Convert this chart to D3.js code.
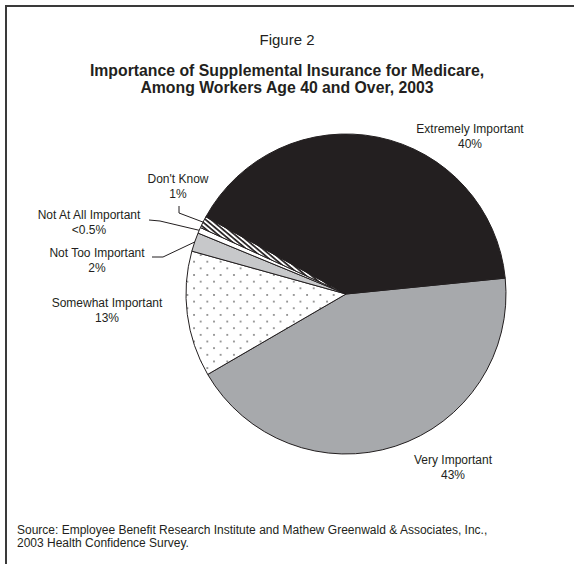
<!DOCTYPE html>
<html>
<head>
<meta charset="utf-8">
<script src="https://cdn.jsdelivr.net/npm/d3@7"></script>
<style>
    body { margin: 0; background: white; }
    text { font-family: "Liberation Sans", Arial, Helvetica, sans-serif; fill: #231f20; }
</style>
</head>
<body>
<div id="chart"></div>
<script>
// slices in clockwise order, starting at the right edge of the pie
const categories = ["Very Important", "Somewhat Important", "Not Too Important", "Not At All Important", "Don't Know", "Extremely Important"];
const shares = [43.2, 12.7, 1.9, 0.6, 1.2, 40.4];
const valueLabels = ["43%", "13%", "2%", "<0.5%", "1%", "40%"];

const titleLines = ["Importance of Supplemental Insurance for Medicare,", "Among Workers Age 40 and Over, 2003"];
const sourceLines = ["Source: Employee Benefit Research Institute and Mathew Greenwald & Associates, Inc.,", "2003 Health Confidence Survey."];

const width = 574;
const height = 564;
const cx = 346, cy = 294, radius = 160;

// where each label sits, and the bend of its leader line (if any)
const placement = {
    "Very Important": { x: 453, y: 464 },
    "Somewhat Important": { x: 107, y: 307 },
    "Not Too Important": { x: 97, y: 257, leader: [[152, 257], [163, 257]] },
    "Not At All Important": { x: 89, y: 219, leader: [[149, 220], [160, 221]] },
    "Don't Know": { x: 178, y: 183, leader: [[179, 206], [179, 213]] },
    "Extremely Important": { x: 470, y: 133 }
};

const fills = {
    "Very Important": "#a7a9ac",
    "Somewhat Important": "url(#dots)",
    "Not Too Important": "#c7c8ca",
    "Not At All Important": "#ffffff",
    "Don't Know": "url(#hatch)",
    "Extremely Important": "#231f20"
};

const svg = d3.select("#chart")
    .append("svg")
    .attr("width", width)
    .attr("height", height);

const defs = svg.append("defs");

// staggered gray dots
const dots = defs.append("pattern")
    .attr("id", "dots")
    .attr("patternUnits", "userSpaceOnUse")
    .attr("width", 13.3)
    .attr("height", 13.3);
dots.append("rect").attr("width", 13.3).attr("height", 13.3).attr("fill", "white");
dots.selectAll("circle")
    .data([[1, 1], [7.65, 7.65]])
    .join("circle")
    .attr("cx", d => d[0])
    .attr("cy", d => d[1])
    .attr("r", 1)
    .attr("fill", "#7a7a7a");

// diagonal black/white stripes
const hatch = defs.append("pattern")
    .attr("id", "hatch")
    .attr("patternUnits", "userSpaceOnUse")
    .attr("width", 3.6)
    .attr("height", 3.6)
    .attr("patternTransform", "rotate(40)");
hatch.append("rect").attr("width", 3.6).attr("height", 3.6).attr("fill", "white");
hatch.append("rect").attr("width", 3.6).attr("height", 1.7).attr("fill", "#231f20");

// frame
svg.append("path")
    .attr("d", `M6,${height + 5}V6H${width + 5}`)
    .attr("fill", "none")
    .attr("stroke", "#3a3a3a")
    .attr("stroke-width", 2);

svg.append("text")
    .attr("x", 287)
    .attr("y", 45)
    .attr("text-anchor", "middle")
    .style("font-size", "15px")
    .text("Figure 2");

svg.append("g")
    .selectAll("text")
    .data(titleLines)
    .join("text")
    .attr("x", 287)
    .attr("y", (d, i) => 76 + i * 16.5)
    .attr("text-anchor", "middle")
    .style("font-size", "15.8px")
    .style("font-weight", "bold")
    .text(d => d);

const data = categories.map((c, i) => ({ name: c, value: shares[i], label: valueLabels[i] }));

const start = 84.3 * Math.PI / 180;
const pie = d3.pie()
    .sort(null)
    .value(d => d.value)
    .startAngle(start)
    .endAngle(start + 2 * Math.PI);

const arc = d3.arc().innerRadius(0).outerRadius(radius);
const arcs = pie(data);

const g = svg.append("g").attr("transform", `translate(${cx},${cy})`);

g.selectAll("path")
    .data(arcs)
    .join("path")
    .attr("d", arc)
    .attr("fill", d => fills[d.data.name])
    .attr("stroke", "#231f20")
    .attr("stroke-width", 1)
    .attr("stroke-linejoin", "round");

// leader lines go from the label bend to the middle of the slice edge
const edgePoint = d => {
    const a = (d.startAngle + d.endAngle) / 2;
    return [cx + radius * Math.sin(a), cy - radius * Math.cos(a)];
};

svg.append("g")
    .selectAll("polyline")
    .data(arcs.filter(d => placement[d.data.name].leader))
    .join("polyline")
    .attr("points", d => placement[d.data.name].leader.concat([edgePoint(d)]).join(" "))
    .attr("fill", "none")
    .attr("stroke", "#231f20")
    .attr("stroke-width", 1);

const labels = svg.append("g")
    .selectAll("text")
    .data(arcs)
    .join("text")
    .attr("x", d => placement[d.data.name].x)
    .attr("y", d => placement[d.data.name].y)
    .attr("text-anchor", "middle")
    .style("font-size", "12px");

labels.append("tspan").text(d => d.data.name);
labels.append("tspan")
    .attr("x", d => placement[d.data.name].x)
    .attr("dy", 14.5)
    .text(d => d.data.label);

svg.append("g")
    .selectAll("text")
    .data(sourceLines)
    .join("text")
    .attr("x", 17)
    .attr("y", (d, i) => 534 + i * 13)
    .style("font-size", "12px")
    .text(d => d);
</script>
</body>
</html>
